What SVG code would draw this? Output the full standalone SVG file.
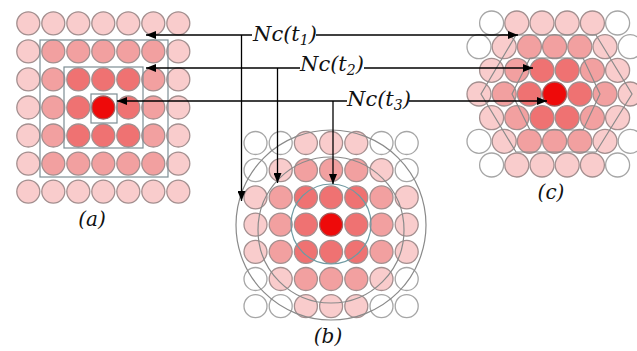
<svg xmlns="http://www.w3.org/2000/svg" width="637" height="351" viewBox="0 0 637 351">
<defs>
<style>
circle{stroke:#a38f8f;stroke-width:1.3}
.w{fill:#ffffff;stroke:#a6a6a6}
.l{fill:#f9cccc}
.m{fill:#f2a0a0}
.d{fill:#ef7272}
.r{fill:#ee0a0a;stroke:#a06060}
.frame{fill:none;stroke:#7d8e94;stroke-width:1.2}
.arc{fill:none;stroke:#8a8a8a;stroke-width:1.2}
.arcin{fill:none;stroke:#6f9aa2;stroke-width:1.2}
.lbl{font-family:"DejaVu Serif","Liberation Serif",serif;font-style:italic;font-size:21px;fill:#111}
.cap{font-family:"DejaVu Serif","Liberation Serif",serif;font-style:italic;font-size:20px;fill:#111;text-anchor:middle}
.ln{fill:none;stroke:#000;stroke-width:1.3}
</style>
<marker id="ah" viewBox="0 0 10 8" refX="10" refY="4" markerWidth="10" markerHeight="8" markerUnits="userSpaceOnUse" orient="auto">
<path d="M0,0 L10,4 L0,8 z" fill="#000"/>
</marker>
</defs>
<rect width="637" height="351" fill="#fff"/>

<g id="node-a">
<circle class="l" cx="28.3" cy="23.3" r="11.5"/><circle class="l" cx="53.3" cy="23.3" r="11.5"/><circle class="l" cx="78.3" cy="23.3" r="11.5"/><circle class="l" cx="103.3" cy="23.3" r="11.5"/><circle class="l" cx="128.3" cy="23.3" r="11.5"/><circle class="l" cx="153.3" cy="23.3" r="11.5"/><circle class="l" cx="178.3" cy="23.3" r="11.5"/>
<circle class="l" cx="28.3" cy="51.4" r="11.5"/><circle class="m" cx="53.3" cy="51.4" r="11.5"/><circle class="m" cx="78.3" cy="51.4" r="11.5"/><circle class="m" cx="103.3" cy="51.4" r="11.5"/><circle class="m" cx="128.3" cy="51.4" r="11.5"/><circle class="m" cx="153.3" cy="51.4" r="11.5"/><circle class="l" cx="178.3" cy="51.4" r="11.5"/>
<circle class="l" cx="28.3" cy="79.4" r="11.5"/><circle class="m" cx="53.3" cy="79.4" r="11.5"/><circle class="d" cx="78.3" cy="79.4" r="11.5"/><circle class="d" cx="103.3" cy="79.4" r="11.5"/><circle class="d" cx="128.3" cy="79.4" r="11.5"/><circle class="m" cx="153.3" cy="79.4" r="11.5"/><circle class="l" cx="178.3" cy="79.4" r="11.5"/>
<circle class="l" cx="28.3" cy="107.5" r="11.5"/><circle class="m" cx="53.3" cy="107.5" r="11.5"/><circle class="d" cx="78.3" cy="107.5" r="11.5"/><circle class="r" cx="103.3" cy="107.5" r="11.5"/><circle class="d" cx="128.3" cy="107.5" r="11.5"/><circle class="m" cx="153.3" cy="107.5" r="11.5"/><circle class="l" cx="178.3" cy="107.5" r="11.5"/>
<circle class="l" cx="28.3" cy="135.5" r="11.5"/><circle class="m" cx="53.3" cy="135.5" r="11.5"/><circle class="d" cx="78.3" cy="135.5" r="11.5"/><circle class="d" cx="103.3" cy="135.5" r="11.5"/><circle class="d" cx="128.3" cy="135.5" r="11.5"/><circle class="m" cx="153.3" cy="135.5" r="11.5"/><circle class="l" cx="178.3" cy="135.5" r="11.5"/>
<circle class="l" cx="28.3" cy="163.6" r="11.5"/><circle class="m" cx="53.3" cy="163.6" r="11.5"/><circle class="m" cx="78.3" cy="163.6" r="11.5"/><circle class="m" cx="103.3" cy="163.6" r="11.5"/><circle class="m" cx="128.3" cy="163.6" r="11.5"/><circle class="m" cx="153.3" cy="163.6" r="11.5"/><circle class="l" cx="178.3" cy="163.6" r="11.5"/>
<circle class="l" cx="28.3" cy="191.6" r="11.5"/><circle class="l" cx="53.3" cy="191.6" r="11.5"/><circle class="l" cx="78.3" cy="191.6" r="11.5"/><circle class="l" cx="103.3" cy="191.6" r="11.5"/><circle class="l" cx="128.3" cy="191.6" r="11.5"/><circle class="l" cx="153.3" cy="191.6" r="11.5"/><circle class="l" cx="178.3" cy="191.6" r="11.5"/>
<rect class="frame" x="40" y="40" width="128" height="137"/>
<rect class="frame" x="64" y="67" width="79" height="81"/>
<rect class="frame" x="91" y="94" width="26" height="29"/>
<text class="cap" x="92" y="226">(a)</text>
</g>

<g id="node-b">
<circle class="w" cx="255.5" cy="143" r="11.5"/><circle class="w" cx="280.7" cy="143" r="11.5"/><circle class="l" cx="305.9" cy="143" r="11.5"/><circle class="l" cx="331.1" cy="143" r="11.5"/><circle class="l" cx="356.3" cy="143" r="11.5"/><circle class="w" cx="381.5" cy="143" r="11.5"/><circle class="w" cx="406.7" cy="143" r="11.5"/>
<circle class="w" cx="255.5" cy="170.2" r="11.5"/><circle class="l" cx="280.7" cy="170.2" r="11.5"/><circle class="m" cx="305.9" cy="170.2" r="11.5"/><circle class="m" cx="331.1" cy="170.2" r="11.5"/><circle class="m" cx="356.3" cy="170.2" r="11.5"/><circle class="l" cx="381.5" cy="170.2" r="11.5"/><circle class="w" cx="406.7" cy="170.2" r="11.5"/>
<circle class="l" cx="255.5" cy="197.4" r="11.5"/><circle class="m" cx="280.7" cy="197.4" r="11.5"/><circle class="d" cx="305.9" cy="197.4" r="11.5"/><circle class="d" cx="331.1" cy="197.4" r="11.5"/><circle class="d" cx="356.3" cy="197.4" r="11.5"/><circle class="m" cx="381.5" cy="197.4" r="11.5"/><circle class="l" cx="406.7" cy="197.4" r="11.5"/>
<circle class="l" cx="255.5" cy="224.6" r="11.5"/><circle class="m" cx="280.7" cy="224.6" r="11.5"/><circle class="d" cx="305.9" cy="224.6" r="11.5"/><circle class="r" cx="331.1" cy="224.6" r="11.5"/><circle class="d" cx="356.3" cy="224.6" r="11.5"/><circle class="m" cx="381.5" cy="224.6" r="11.5"/><circle class="l" cx="406.7" cy="224.6" r="11.5"/>
<circle class="l" cx="255.5" cy="251.8" r="11.5"/><circle class="m" cx="280.7" cy="251.8" r="11.5"/><circle class="d" cx="305.9" cy="251.8" r="11.5"/><circle class="d" cx="331.1" cy="251.8" r="11.5"/><circle class="d" cx="356.3" cy="251.8" r="11.5"/><circle class="m" cx="381.5" cy="251.8" r="11.5"/><circle class="l" cx="406.7" cy="251.8" r="11.5"/>
<circle class="w" cx="255.5" cy="279" r="11.5"/><circle class="l" cx="280.7" cy="279" r="11.5"/><circle class="m" cx="305.9" cy="279" r="11.5"/><circle class="m" cx="331.1" cy="279" r="11.5"/><circle class="m" cx="356.3" cy="279" r="11.5"/><circle class="l" cx="381.5" cy="279" r="11.5"/><circle class="w" cx="406.7" cy="279" r="11.5"/>
<circle class="w" cx="255.5" cy="306.2" r="11.5"/><circle class="w" cx="280.7" cy="306.2" r="11.5"/><circle class="l" cx="305.9" cy="306.2" r="11.5"/><circle class="l" cx="331.1" cy="306.2" r="11.5"/><circle class="l" cx="356.3" cy="306.2" r="11.5"/><circle class="w" cx="381.5" cy="306.2" r="11.5"/><circle class="w" cx="406.7" cy="306.2" r="11.5"/>
<circle class="arc" cx="331" cy="225" r="95"/>
<circle class="arc" cx="331" cy="230" r="73"/>
<circle class="arcin" cx="331" cy="224" r="40"/>
<text class="cap" x="328" y="343">(b)</text>
</g>

<g id="node-c">
<circle class="w" cx="491.6" cy="23" r="12"/><circle class="l" cx="516.8" cy="23" r="12"/><circle class="l" cx="542" cy="23" r="12"/><circle class="l" cx="567.2" cy="23" r="12"/><circle class="l" cx="592.4" cy="23" r="12"/><circle class="w" cx="617.6" cy="23" r="12"/>
<circle class="w" cx="479" cy="46.7" r="12"/><circle class="l" cx="504.2" cy="46.7" r="12"/><circle class="m" cx="529.4" cy="46.7" r="12"/><circle class="m" cx="554.6" cy="46.7" r="12"/><circle class="m" cx="579.8" cy="46.7" r="12"/><circle class="l" cx="605" cy="46.7" r="12"/><circle class="w" cx="630.2" cy="46.7" r="12"/>
<circle class="l" cx="491.6" cy="70.3" r="12"/><circle class="m" cx="516.8" cy="70.3" r="12"/><circle class="d" cx="542" cy="70.3" r="12"/><circle class="d" cx="567.2" cy="70.3" r="12"/><circle class="m" cx="592.4" cy="70.3" r="12"/><circle class="l" cx="617.6" cy="70.3" r="12"/>
<circle class="l" cx="479" cy="94" r="12"/><circle class="m" cx="504.2" cy="94" r="12"/><circle class="d" cx="529.4" cy="94" r="12"/><circle class="r" cx="554.6" cy="94" r="12"/><circle class="d" cx="579.8" cy="94" r="12"/><circle class="m" cx="605" cy="94" r="12"/><circle class="l" cx="630.2" cy="94" r="12"/>
<circle class="l" cx="491.6" cy="117.7" r="12"/><circle class="m" cx="516.8" cy="117.7" r="12"/><circle class="d" cx="542" cy="117.7" r="12"/><circle class="d" cx="567.2" cy="117.7" r="12"/><circle class="m" cx="592.4" cy="117.7" r="12"/><circle class="l" cx="617.6" cy="117.7" r="12"/>
<circle class="w" cx="479" cy="141.3" r="12"/><circle class="l" cx="504.2" cy="141.3" r="12"/><circle class="m" cx="529.4" cy="141.3" r="12"/><circle class="m" cx="554.6" cy="141.3" r="12"/><circle class="m" cx="579.8" cy="141.3" r="12"/><circle class="l" cx="605" cy="141.3" r="12"/><circle class="w" cx="630.2" cy="141.3" r="12"/>
<circle class="w" cx="491.6" cy="165" r="12"/><circle class="l" cx="516.8" cy="165" r="12"/><circle class="l" cx="542" cy="165" r="12"/><circle class="l" cx="567.2" cy="165" r="12"/><circle class="l" cx="592.4" cy="165" r="12"/><circle class="w" cx="617.6" cy="165" r="12"/>
<polygon class="arc" points="516,35 596,35 632,94 596,152 516,152 481,94"/>
<polygon class="arc" points="530,58 583,58 600,94 583,130 530,130 512,94"/>
<text class="cap" x="551" y="199">(c)</text>
</g>

<g id="label-t1"><text class="lbl" x="253" y="41">Nc(t<tspan font-size="14" dy="4">1</tspan><tspan dy="-4">)</tspan></text></g>
<g id="label-t2"><text class="lbl" x="300" y="71">Nc(t<tspan font-size="14" dy="4">2</tspan><tspan dy="-4">)</tspan></text></g>
<g id="label-t3"><text class="lbl" x="347" y="106">Nc(t<tspan font-size="14" dy="4">3</tspan><tspan dy="-4">)</tspan></text></g>

<g id="connectors">
<line class="ln" x1="252" y1="35" x2="146" y2="35" marker-end="url(#ah)"/>
<line class="ln" x1="241.5" y1="35" x2="241.5" y2="201" marker-end="url(#ah)"/>
<line class="ln" x1="316" y1="35" x2="518" y2="35" marker-end="url(#ah)"/>
<line class="ln" x1="300" y1="68" x2="146" y2="68" marker-end="url(#ah)"/>
<line class="ln" x1="277.5" y1="68" x2="277.5" y2="183" marker-end="url(#ah)"/>
<line class="ln" x1="364" y1="68" x2="533" y2="68" marker-end="url(#ah)"/>
<line class="ln" x1="347" y1="101" x2="117" y2="101" marker-end="url(#ah)"/>
<line class="ln" x1="333" y1="101" x2="333" y2="184" marker-end="url(#ah)"/>
<line class="ln" x1="409" y1="101" x2="547" y2="101" marker-end="url(#ah)"/>
</g>
</svg>
